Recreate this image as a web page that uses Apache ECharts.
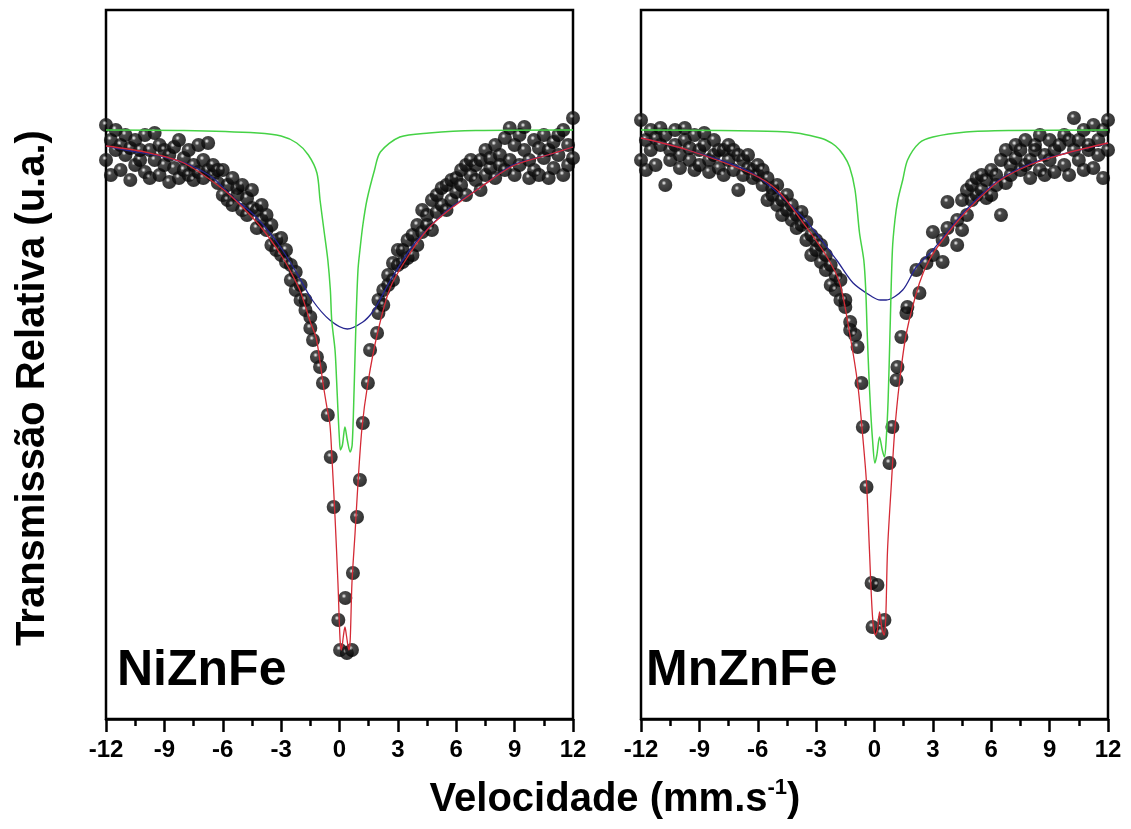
<!DOCTYPE html>
<html>
<head>
<meta charset="utf-8">
<script src="https://cdn.jsdelivr.net/npm/echarts@6/dist/echarts.min.js"></script>
<style>
  html, body { margin: 0; padding: 0; background: #fff; }
  #chart { width: 1131px; height: 829px; }
</style>
</head>
<body>
<div id="chart"></div>
<script>
  // velocity (mm/s) vs relative transmission (a.u.)
  const velTicks = [-12, -9, -6, -3, 0, 3, 6, 9, 12];

  const niPoints = [
    [-12,100.5],[-12,97],[-11.75,99],[-11.75,95.5],[-11.5,98],[-11.5,100],[-11.25,96],[-11.25,98.5],
    [-11,97.5],[-11,99.5],[-10.75,95],[-10.75,98.2],[-10.5,99],[-10.5,96.5],[-10.25,97],[-10.25,98],
    [-10,99.5],[-10,95.8],[-9.75,95.2],[-9.75,98],[-9.5,99.7],[-9.5,97],[-9.25,98.5],[-9.25,95.5],
    [-9,96.5],[-9,98],[-8.75,94.8],[-8.75,97.5],[-8.5,98.3],[-8.5,96.2],[-8.25,99],[-8.25,95.2],
    [-8,97.2],[-8,96],[-7.75,95.5],[-7.75,98],[-7.5,96.5],[-7.5,95],[-7.25,98.5],[-7.25,95.8],
    [-7,97],[-7,95.2],[-6.75,98.7],[-6.75,96],[-6.5,95.5],[-6.5,96.5],[-6.25,94.7],[-6.25,96],
    [-6,96],[-6,93.5],[-5.75,94.5],[-5.75,93],[-5.5,95.2],[-5.5,92.5],[-5.25,93.5],[-5.25,94.2],
    [-5,94.5],[-5,92],[-4.75,93.2],[-4.75,91.5],[-4.5,94],[-4.5,92.2],[-4.25,92],[-4.25,90.2],
    [-4,92.5],[-4,91],[-3.75,90],[-3.75,91.5],[-3.5,90.5],[-3.5,88.5],[-3.25,89],[-3.25,88],
    [-3,87.5],[-3,89.2],[-2.75,86.8],[-2.75,88],[-2.5,86.5],[-2.5,85],[-2.25,85.8],[-2.25,84],
    [-2,84.5],[-2,83],[-1.75,83],[-1.75,82],[-1.5,81.3],[-1.5,80.2],[-1.36,79],[-1.16,77.3],
    [-1,76.3],[-0.85,74.7],[-0.6,71.5],[-0.45,67.3],[-0.3,62.3],[-0.06,51],[0.03,48],[0.3,53.2],
    [0.38,47.7],[0.64,48],[0.69,55.7],[0.9,61.3],[1.05,65],[1.2,70.7],[1.46,74.7],[1.57,78],
    [1.93,79.7],[2,81.7],[2,83],[2.25,82.5],[2.25,84],[2.5,85.5],[2.5,84.5],[2.75,86.7],[2.75,85],
    [3,86.5],[3,88],[3.25,88],[3.25,86.8],[3.5,89],[3.5,87.2],[3.75,89.5],[3.75,87.5],
    [4,90.5],[4,88.5],[4.25,92],[4.25,89.8],[4.5,91.5],[4.5,90.5],[4.75,93],[4.75,90],
    [5,93.5],[5,91.8],[5.25,94.2],[5.25,92.5],[5.5,94.5],[5.5,92],[5.75,95],[5.75,93],
    [6,93.8],[6,95.2],[6.25,96],[6.25,94.5],[6.5,96.5],[6.5,93.5],[6.75,95.5],[6.75,97],
    [7,95],[7,96.5],[7.25,97],[7.25,94],[7.5,98],[7.5,95.5],[7.75,96.2],[7.75,97.2],
    [8,98.5],[8,95.2],[8.25,97.5],[8.25,96.5],[8.5,99.2],[8.5,96],[8.75,100.2],[8.75,97],
    [9,98.5],[9,95.5],[9.25,99.5],[9.25,96.5],[9.5,100.3],[9.5,98],[9.75,97],[9.75,95.2],
    [10,99],[10,96],[10.25,98.2],[10.25,95.5],[10.5,99.5],[10.5,97.2],[10.75,98],[10.75,95.2],
    [11,98.8],[11,96.2],[11.25,97.5],[11.25,99.5],[11.5,100],[11.5,95.5],[11.75,98.5],[11.75,96.5],
    [12,101.2],[12,97.2]
  ];
  const niFit = [
    [-12,98.4],[-10,97.8],[-8,96.7],[-6,94.1],[-5,92.3],[-4,90.2],[-3,87.5],[-2.5,85.8],[-2,83.8],
    [-1.5,80.8],[-1.2,79.2],[-1,76.8],[-0.85,74.7],[-0.65,72.3],[-0.49,70.5],[-0.39,67.3],[-0.23,61.3],
    [-0.08,54.7],[0.03,49],[0.1,48],[0.2,49.4],[0.28,50.3],[0.36,49.4],[0.48,48],[0.55,49],[0.64,54.7],
    [0.8,59.7],[0.95,64.7],[1.16,70.3],[1.46,74.7],[1.93,79.5],[2.6,84.2],[3.5,87.3],[4.5,90],
    [5.5,91.8],[7.2,94.2],[8.9,96.4],[10.7,97.5],[12,98.3]
  ];
  const niBroad = [
    [-12,98.4],[-11,98],[-9,97.3],[-7.7,96.5],[-6.5,95.2],[-5.5,93.3],[-4.5,91.7],[-3.7,90],[-3,88.2],
    [-2.2,85.7],[-1.4,83],[-0.5,81],[0.4,80.1],[1.2,80.8],[1.7,81.8],[2.1,83.1],[2.6,84.9],[3.8,88.5],
    [5.5,91.9],[7.2,94.2],[8.9,96.5],[10.7,97.5],[12,98.3]
  ];
  const niNarrow = [
    [-12,100],[-8,99.95],[-4.2,99.7],[-3,99.4],[-2.2,98.7],[-1.6,97.5],[-1.16,95.7],[-1,93],[-0.8,90],
    [-0.6,87],[-0.47,84],[-0.4,81],[-0.23,78],[-0.15,75],[-0.08,72],[0,69],[0.05,68],[0.15,68.5],
    [0.28,70.3],[0.4,69],[0.55,67.8],[0.65,68.5],[0.75,74],[0.85,81],[0.95,86],[1.05,88],[1.2,90.5],
    [1.41,93],[1.8,96],[2.1,97.8],[3.1,99.3],[4.6,99.7],[7,99.95],[12,100]
  ];

  const mnPoints = [
    [-12,101],[-12,97],[-11.75,99],[-11.75,96],[-11.5,100],[-11.5,98],[-11.25,96.5],[-11.25,99.2],
    [-11,98.5],[-11,100.2],[-10.75,94.5],[-10.75,99.5],[-10.5,98],[-10.5,97],[-10.25,100],[-10.25,98.5],
    [-10,97.5],[-10,96.2],[-9.75,99],[-9.75,100.2],[-9.5,97],[-9.5,98.2],[-9.25,99.5],[-9.25,96],
    [-9,98],[-9,96.5],[-8.75,98.5],[-8.75,99.7],[-8.5,97],[-8.5,95.8],[-8.25,99],[-8.25,97.5],
    [-8,96.2],[-8,98],[-7.75,98],[-7.75,95.5],[-7.5,97],[-7.5,98.5],[-7.25,96],[-7.25,98],
    [-7,94],[-7,97.5],[-6.75,97],[-6.75,95.5],[-6.5,97.5],[-6.5,96.2],[-6.25,96],[-6.25,95.2],
    [-6,95.5],[-6,96.5],[-5.75,94.5],[-5.75,96],[-5.5,95.2],[-5.5,93],[-5.25,93.5],[-5.25,94.2],
    [-5,92.5],[-5,94.5],[-4.75,93],[-4.75,91.5],[-4.5,92],[-4.5,93.5],[-4.25,91],[-4.25,92.5],
    [-4,91.5],[-4,90.2],[-3.75,90.5],[-3.75,91.8],[-3.5,89],[-3.5,90.8],[-3.25,89.5],[-3.25,87.5],
    [-3,88],[-3,89],[-2.75,86.8],[-2.75,88.5],[-2.5,87.5],[-2.5,86],[-2.25,86.5],[-2.25,84.5],
    [-2,85.5],[-2,84],[-1.75,85],[-1.75,83],[-1.5,82.3],[-1.5,83],[-1.25,80.8],[-1.25,80],
    [-1,79.5],[-0.87,78.3],[-0.67,74.7],[-0.6,70.3],[-0.41,64.3],[-0.15,54.7],[-0.1,50.3],[0.15,54.5],
    [0.36,49.7],[0.51,51],[0.77,66.7],[0.92,70.3],[1.13,75],[1.18,76.3],[1.38,79.3],[1.64,81.7],
    [1.69,82.3],[2.15,86],[2.31,83.7],[2.67,86.7],[3,87.5],[3,89.8],[3.5,89],[3.5,86.8],
    [3.75,90.2],[3.75,92.8],[4.25,91],[4.25,88.5],[4.5,93],[4.5,90],[4.75,94],[4.75,91.5],
    [5,94.5],[5,93],[5.25,95.2],[5.25,93.5],[5.5,94],[5.5,95.5],[5.75,95],[5.75,93.2],
    [6,96],[6,93.5],[6.25,95.5],[6.25,94.5],[6.5,91.5],[6.5,97],[6.75,98],[6.75,94.7],
    [7,96.5],[7,95.5],[7.25,97.2],[7.25,98.5],[7.5,96],[7.5,98],[7.75,99],[7.75,96.5],
    [8,97],[8,95.2],[8.25,98.5],[8.25,98],[8.5,99.5],[8.5,96],[8.75,97.5],[8.75,95.5],
    [9,99],[9,97],[9.25,98],[9.25,95.8],[9.5,98.5],[9.75,99.5],[9.75,96.5],[10,99],[10,95.5],
    [10.25,101.2],[10.25,98],[10.5,97],[10.5,99],[10.75,100],[10.75,96],[11,98],[11,98.5],
    [11.25,100.5],[11.25,96.2],[11.5,99],[11.5,97.5],[11.75,95.2],[11.75,100],[12,101],[12,98]
  ];
  const mnFit = [
    [-12,99.2],[-9.6,98],[-6.3,95.6],[-5,94],[-3.7,90.8],[-2.5,87.5],[-1.79,84.7],[-1.28,79.7],
    [-0.87,74.7],[-0.62,69.7],[-0.41,64.7],[-0.26,58],[-0.1,51.3],[0.05,49.5],[0.15,50],[0.26,51.8],
    [0.38,50.2],[0.5,49.5],[0.58,51.3],[0.67,58],[0.87,64.7],[1.03,69.7],[1.28,74.7],[1.64,79.7],
    [2.31,84.7],[2.82,87],[3.5,89],[4.7,91.8],[6.4,94.9],[8.1,96.6],[9.9,97.7],[12,98.7]
  ];
  const mnBroad = [
    [-12,99.2],[-9.6,98],[-6.3,95.7],[-3.7,91.3],[-1.95,87],[-1.1,84.7],[-0.1,83.3],[0.3,83],
    [0.6,83],[1.45,84],[2.15,86.3],[3,88],[4.7,92],[6.4,95],[8.1,96.7],[9.9,97.7],[12,98.7]
  ];
  const mnNarrow = [
    [-12,100],[-8,99.95],[-5,99.85],[-4,99.7],[-3,99.3],[-2.5,99],[-2,98.4],[-1.6,97.5],[-1.28,96.3],
    [-1,94],[-0.77,89.7],[-0.55,87],[-0.45,84],[-0.38,80],[-0.3,76],[-0.2,72],[-0.1,69],[0.02,66.7],
    [0.12,67.5],[0.26,69.3],[0.4,68],[0.51,67.3],[0.6,69],[0.7,73],[0.8,80],[0.92,88],[1.05,91],
    [1.2,93],[1.45,95],[1.7,97],[2.3,98.7],[3,99.3],[4.7,99.8],[7,99.95],[12,100]
  ];

  const boldFont = '"Liberation Sans", Arial, Helvetica, sans-serif';

  // dark sphere with a small white glint
  const ball = {
    type: 'radial', x: 0.4, y: 0.36, r: 0.6,
    colorStops: [
      {offset: 0, color: '#ffffff'},
      {offset: 0.1, color: '#b0b0b0'},
      {offset: 0.28, color: '#1c1c1c'},
      {offset: 1, color: '#000000'}
    ]
  };

  function xAxisFor(i) {
    return {
      gridIndex: i, type: 'value', min: -12, max: 12, interval: 3,
      axisLine: {show: true, onZero: false, lineStyle: {color: '#000', width: 2.5}},
      axisTick: {show: true, length: 13, lineStyle: {color: '#000', width: 2.5}},
      minorTick: {show: true, splitNumber: 2, length: 7, lineStyle: {color: '#000', width: 2.5}},
      axisLabel: {
        color: '#000', fontSize: 24, fontWeight: 'bold', fontFamily: boldFont, margin: 19,
        formatter: v => velTicks.indexOf(v) >= 0 ? String(v) : ''
      },
      splitLine: {show: false}
    };
  }
  function yAxisFor(i) {
    return {
      gridIndex: i, type: 'value', min: 41.1, max: 112,
      axisLine: {show: false}, axisTick: {show: false}, axisLabel: {show: false}, splitLine: {show: false}
    };
  }
  function panel(i, points, fit, broad, narrow) {
    return [
      {type: 'scatter', xAxisIndex: i, yAxisIndex: i, data: points, symbolSize: 14, clip: false,
        itemStyle: {color: ball}, z: 2},
      {type: 'line', xAxisIndex: i, yAxisIndex: i, data: broad, showSymbol: false, smooth: 0.3,
        lineStyle: {color: '#25258f', width: 1.3}, z: 3},
      {type: 'line', xAxisIndex: i, yAxisIndex: i, data: narrow, showSymbol: false, smooth: 0.3,
        lineStyle: {color: '#45d245', width: 1.5}, z: 4},
      {type: 'line', xAxisIndex: i, yAxisIndex: i, data: fit, showSymbol: false, smooth: 0.3,
        lineStyle: {color: '#d42a35', width: 1.3}, z: 5}
    ];
  }

  const option = {
    animation: false,
    backgroundColor: '#fff',
    grid: [
      {left: 106, top: 10, width: 467, height: 709, show: true, borderColor: '#000', borderWidth: 2.5},
      {left: 641, top: 10, width: 467, height: 709, show: true, borderColor: '#000', borderWidth: 2.5}
    ],
    xAxis: [xAxisFor(0), xAxisFor(1)],
    yAxis: [yAxisFor(0), yAxisFor(1)],
    series: [].concat(
      panel(0, niPoints, niFit, niBroad, niNarrow),
      panel(1, mnPoints, mnFit, mnBroad, mnNarrow)
    ),
    graphic: [
      {type: 'text', x: 117, y: 671, z: 10,
        style: {text: 'NiZnFe', fill: '#000', font: 'bold 50px ' + boldFont, align: 'left', verticalAlign: 'middle'}},
      {type: 'text', x: 646, y: 671, z: 10,
        style: {text: 'MnZnFe', fill: '#000', font: 'bold 50px ' + boldFont, align: 'left', verticalAlign: 'middle'}},
      {type: 'text', x: 33, y: 388, rotation: Math.PI / 2, z: 10,
        style: {text: 'Transmissão Relativa (u.a.)', fill: '#000', font: 'bold 40px ' + boldFont,
          align: 'center', verticalAlign: 'middle'}},
      {type: 'text', x: 615, y: 800, z: 10,
        style: {
          text: '{a|Velocidade (mm.s}{b|-1}{a|)}', align: 'center', verticalAlign: 'middle',
          rich: {
            a: {fontSize: 40, fontWeight: 'bold', fontFamily: boldFont, fill: '#000', color: '#000'},
            b: {fontSize: 22, fontWeight: 'bold', fontFamily: boldFont, fill: '#000', color: '#000', padding: [0, 0, 24, 0]}
          }
        }}
    ]
  };

  echarts.init(document.getElementById('chart')).setOption(option);
</script>
</body>
</html>
